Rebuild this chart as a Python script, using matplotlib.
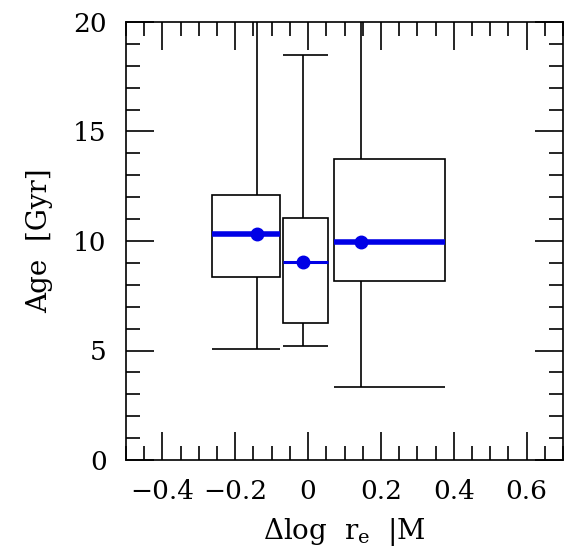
import numpy as np
import matplotlib
matplotlib.use('Agg')
import matplotlib.pyplot as plt
from matplotlib.ticker import MultipleLocator

plt.rcParams['font.family'] = 'DejaVu Serif'
plt.rcParams['mathtext.fontset'] = 'dejavuserif'

# bin edges (left, right) and mean position of each bin
bin_left = [-0.265, -0.068, 0.070]
bin_right = [-0.077, 0.056, 0.375]
x_mean = [-0.140, -0.015, 0.146]

# age statistics per bin [Gyr]
q_low = [8.36, 6.27, 8.17]
q_high = [12.10, 11.05, 13.76]
median = [10.30, 9.05, 9.97]
w_low = [5.07, 5.22, 3.32]
w_high = [20.6, 18.49, 20.6]
med_lw = [4.0, 2.2, 4.0]

fig = plt.figure(figsize=(5.67, 5.52), dpi=100)
ax = fig.add_axes([126 / 567, 92 / 552, 437 / 567, 438 / 552])

lw = 1.2
for i in range(len(x_mean)):
    width = bin_right[i] - bin_left[i]
    ax.bar(bin_left[i], q_high[i] - q_low[i], width=width, bottom=q_low[i],
           align='edge', fill=False, edgecolor='black', linewidth=lw)
    ax.vlines(x_mean[i], q_high[i], w_high[i], color='black', linewidth=lw)
    ax.vlines(x_mean[i], w_low[i], q_low[i], color='black', linewidth=lw)
    ax.hlines([w_low[i], w_high[i]], bin_left[i], bin_right[i],
              color='black', linewidth=lw)
    ax.hlines(median[i], bin_left[i], bin_right[i], color='#0000e6',
              linewidth=med_lw[i], zorder=3)
    ax.plot(x_mean[i], median[i], 'o', color='#0000e6', markersize=9, zorder=4)

ax.set_xlim(-0.5, 0.7)
ax.set_ylim(0, 20)
ax.xaxis.set_major_locator(MultipleLocator(0.2))
ax.xaxis.set_minor_locator(MultipleLocator(0.05))
ax.yaxis.set_major_locator(MultipleLocator(5))
ax.yaxis.set_minor_locator(MultipleLocator(1))
ax.set_xticks([-0.4, -0.2, 0, 0.2, 0.4, 0.6])
ax.set_xticklabels(['\u22120.4', '\u22120.2', '0', '0.2', '0.4', '0.6'])
ax.tick_params(which='both', direction='in', top=True, right=True,
               width=lw, labelsize=19)
ax.tick_params(axis='x', pad=14)
ax.tick_params(axis='y', pad=14)
ax.tick_params(which='major', length=20)
ax.tick_params(which='minor', length=10)
for s in ax.spines.values():
    s.set_linewidth(lw)

ax.set_xlabel(r'$\Delta$log  r$_{\rm e}$  |M', fontsize=20, labelpad=8)
ax.set_ylabel('Age  [Gyr]', fontsize=20, labelpad=14)

fig.savefig('out.png', dpi=100)
